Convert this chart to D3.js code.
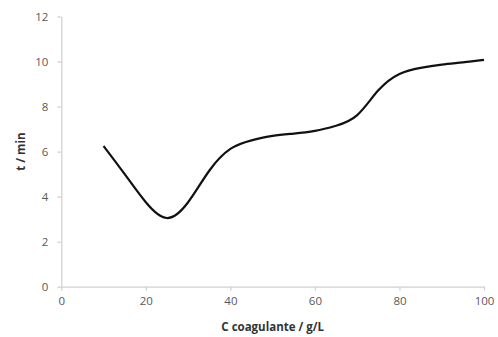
<!DOCTYPE html>
<html>
<head>
<meta charset="utf-8">
<script src="https://cdn.jsdelivr.net/npm/d3@7"></script>
<style>
  body { margin: 0; background: #fff; }
  svg text { font-family: "Open Sans", "Liberation Sans", sans-serif; }
</style>
</head>
<body>
<figure id="chart" style="margin:0"></figure>
<script>
// concentration of coagulant (g/L)
const conc = [10, 15, 20, 25, 30, 35, 40, 45, 50, 55, 60, 65, 70, 75, 80, 85, 90, 95, 100];
// time (min)
const time = [6.25, 5.0, 3.75, 3.05, 3.75, 5.15, 6.12, 6.5, 6.7, 6.8, 6.92, 7.15, 7.62, 8.72, 9.45, 9.72, 9.86, 9.96, 10.07];
const xTicks = [0, 20, 40, 60, 80, 100];
const yTicks = [0, 2, 4, 6, 8, 10, 12];

const W = 498, H = 337;
const plotL = 61.3, plotR = 484, plotT = 16.5, plotB = 286.7;

const svg = d3.select("#chart").append("svg")
  .attr("width", W).attr("height", H);

const x = d3.scaleLinear().domain([0, 100]).range([plotL, plotR]);
const y = d3.scaleLinear().domain([0, 12]).range([plotB, plotT]);

// axes
const xAxis = svg.append("g")
  .attr("transform", "translate(0," + plotB + ")")
  .call(d3.axisBottom(x).tickValues(xTicks).tickSize(4).tickPadding(6).tickSizeOuter(0));
const yAxis = svg.append("g")
  .attr("transform", "translate(" + plotL + ",0)")
  .call(d3.axisLeft(y).tickValues(yTicks).tickSize(4).tickPadding(9).tickSizeOuter(0));

[xAxis, yAxis].forEach(g => {
  g.select(".domain").attr("stroke", "#d0d0d0").attr("stroke-width", 1.2);
  g.selectAll(".tick line").attr("stroke", "#d0d0d0").attr("stroke-width", 1.2);
  g.selectAll(".tick text").attr("fill", "#595959").style("font-size", "11.5px");
});

// smooth curve
const line = d3.line()
  .x((d, i) => x(conc[i]))
  .y(d => y(d))
  .curve(d3.curveNatural);

svg.append("path")
  .datum(time)
  .attr("fill", "none")
  .attr("stroke", "#111")
  .attr("stroke-width", 2.2)
  .attr("d", line);

// axis titles
svg.append("text")
  .attr("x", (plotL + plotR) / 2)
  .attr("y", 331)
  .attr("text-anchor", "middle")
  .attr("font-weight", "bold")
  .attr("fill", "#333")
  .style("font-size", "11.5px")
  .text("C coagulante / g/L");

svg.append("text")
  .attr("transform", "translate(25," + ((plotT + plotB) / 2) + ") rotate(-90)")
  .attr("text-anchor", "middle")
  .attr("font-weight", "bold")
  .attr("fill", "#333")
  .style("font-size", "11.5px")
  .text("t / min");
</script>
</body>
</html>
